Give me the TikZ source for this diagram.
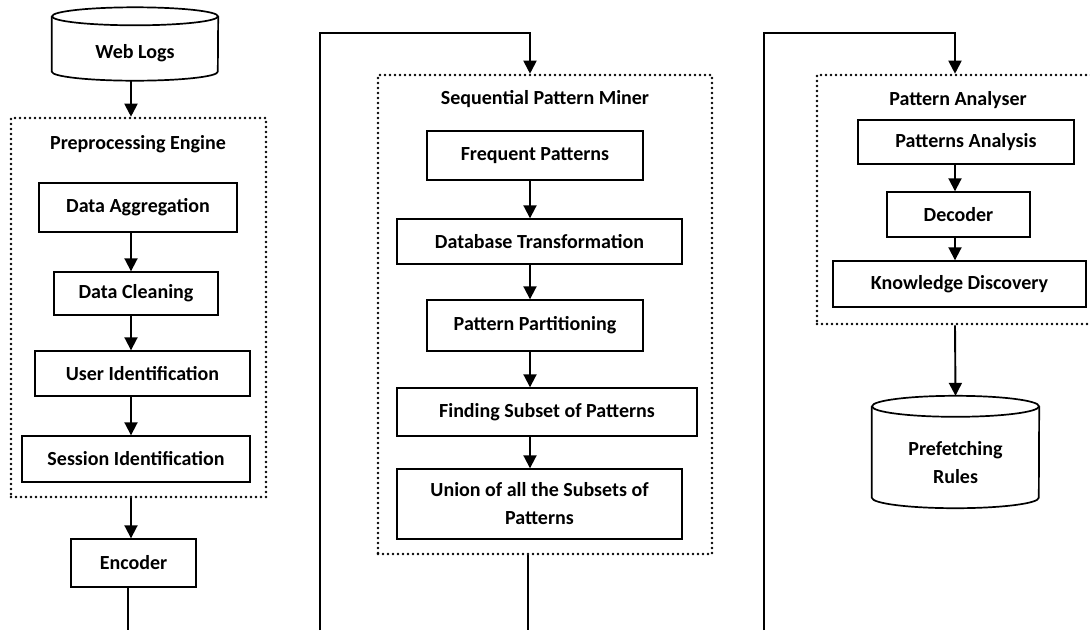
\documentclass[tikz,border=0pt]{standalone}
\usepackage{fontspec}
\setmainfont{Carlito}
\usetikzlibrary{arrows.meta}
\begin{document}
\begin{tikzpicture}[x=1pt, y=-1pt,
  every node/.style={font=\fontsize{20}{28}\selectfont\bfseries},
  stage/.style={draw, line width=1.4pt, inner sep=0pt, align=center},
  frame/.style={draw, line width=2.6pt, dash pattern=on 0pt off 5pt, line cap=round, inner sep=0pt},
  store/.style={inner sep=0pt, align=center},
  rim/.style={line width=1.7pt},
  flow/.style={line width=1.9pt, -{Triangle[width=13pt,length=13pt]}},
  wire/.style={line width=1.9pt}]
\useasboundingbox (0,0) rectangle (1090,630);
\clip (0,0) rectangle (1090,630);
\coordinate (laneA) at (131,0);
\coordinate (laneB) at (530,0);
\coordinate (laneC) at (955,0);
\node[store, minimum width=166pt, minimum height=55pt] (logs) at (135,53) {Web Logs};
\draw[rim] ([yshift=9pt]logs.north) ellipse [x radius=83pt, y radius=9pt];
\draw[rim] ([yshift=9pt]logs.north west) -- ([yshift=9pt]logs.south west) arc [start angle=180, end angle=360, x radius=83pt, y radius=9pt] -- ([yshift=9pt]logs.north east);
\node[frame, minimum width=255pt, minimum height=379pt] (pre) at (138.5,307.5) {};
\node (pretitle) at (138,144) {Preprocessing Engine};
\node[stage, minimum width=198pt, minimum height=49pt] (agg) at (138,207.5) {Data Aggregation};
\node[stage, minimum width=164pt, minimum height=43pt] (clean) at (136,293.5) {Data Cleaning};
\node[stage, minimum width=215pt, minimum height=45pt] (user) at (142.5,373.5) {User Identification};
\node[stage, minimum width=228pt, minimum height=46pt] (sess) at (136,459) {Session Identification};
\node[stage, minimum width=125pt, minimum height=48pt] (enc) at (133.5,563) {Encoder};
\draw[flow] (laneA |- logs.south) -- (laneA |- pre.north);
\draw[flow] (laneA |- agg.south) -- (laneA |- clean.north);
\draw[flow] (laneA |- clean.south) -- (laneA |- user.north);
\draw[flow] (laneA |- user.south) -- (laneA |- sess.north);
\draw[flow] (laneA |- pre.south) -- (laneA |- enc.north);
\coordinate (endA) at (128,630);
\draw[wire] (endA |- enc.south) -- (endA);
\node[frame, minimum width=334pt, minimum height=479pt] (spm) at (545,314.5) {};
\node (spmtitle) at (545,99) {Sequential Pattern Miner};
\node[stage, minimum width=216pt, minimum height=49pt] (freq) at (535,155.5) {Frequent Patterns};
\node[stage, minimum width=285pt, minimum height=45pt] (dbt) at (539.5,241.5) {Database Transformation};
\node[stage, minimum width=216pt, minimum height=51pt] (part) at (535,325.5) {Pattern Partitioning};
\node[stage, minimum width=300pt, minimum height=48pt] (subset) at (547,412) {Finding Subset of Patterns};
\node[stage, minimum width=285pt, minimum height=70pt] (union) at (539.5,504) {Union of all the Subsets of\\Patterns};
\coordinate (startB) at (320,630);
\coordinate (topB) at (530,33);
\draw[flow] (startB) |- (topB) -- (laneB |- spm.north);
\draw[flow] (laneB |- freq.south) -- (laneB |- dbt.north);
\draw[flow] (laneB |- dbt.south) -- (laneB |- part.north);
\draw[flow] (laneB |- part.south) -- (laneB |- subset.north);
\draw[flow] (laneB |- subset.south) -- (laneB |- union.north);
\coordinate (endB) at (528,630);
\draw[wire] (endB |- spm.south) -- (endB);
\node[frame, minimum width=300pt, minimum height=249pt] (pa) at (967,199.5) {};
\node (patitle) at (958,100) {Pattern Analyser};
\node[stage, minimum width=216pt, minimum height=44pt] (pan) at (966,142) {Patterns Analysis};
\node[stage, minimum width=143pt, minimum height=45pt] (dec) at (958.5,214.5) {Decoder};
\node[stage, minimum width=253pt, minimum height=46pt] (kd) at (959.5,284) {Knowledge Discovery};
\coordinate (startC) at (764,630);
\coordinate (topC) at (955,33);
\draw[flow] (startC) |- (topC) -- (laneC |- pa.north);
\draw[flow] (laneC |- pan.south) -- (laneC |- dec.north);
\draw[flow] (laneC |- dec.south) -- (laneC |- kd.north);
\node[store, minimum width=167pt, minimum height=91pt] (rules) at (955.5,462.5) {Prefetching\\Rules};
\draw[rim] ([yshift=10.5pt]rules.north) ellipse [x radius=83.5pt, y radius=10.5pt];
\draw[rim] ([yshift=10.5pt]rules.north west) -- ([yshift=10.5pt]rules.south west) arc [start angle=180, end angle=360, x radius=83.5pt, y radius=10.5pt] -- ([yshift=10.5pt]rules.north east);
\draw[flow] (laneC |- pa.south) -- ([yshift=21pt]rules.north);
\end{tikzpicture}
\end{document}
